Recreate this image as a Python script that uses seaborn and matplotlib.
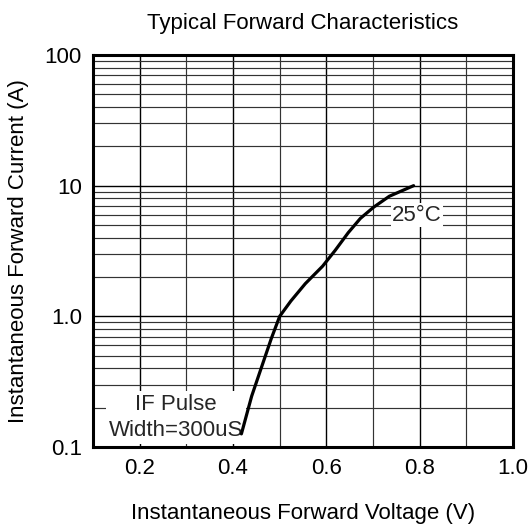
import seaborn as sns
import pandas as pd
import matplotlib.pyplot as plt
from matplotlib.ticker import FixedLocator, NullFormatter

# curve (25 deg C)
voltage = [0.418, 0.44, 0.461, 0.482, 0.50, 0.524, 0.555, 0.592, 0.619,
           0.647, 0.673, 0.701, 0.735, 0.787]
current = [0.126, 0.245, 0.407, 0.675, 1.0, 1.31, 1.78, 2.42, 3.2,
           4.37, 5.62, 6.83, 8.3, 10.0]

x_ticks = [0.2, 0.4, 0.6, 0.8, 1.0]
x_tick_labels = ["0.2", "0.4", "0.6", "0.8", "1.0"]
x_minor = [0.3, 0.5, 0.7, 0.9]
y_ticks = [0.1, 1, 10, 100]
y_tick_labels = ["0.1", "1.0", "10", "100"]
y_minor = [m * d for d in (0.1, 1, 10) for m in range(2, 10)]

df = pd.DataFrame({"voltage": voltage, "current": current})

sns.set_theme(style="white")
plt.rcParams["font.family"] = ["Liberation Sans", "DejaVu Sans"]

fig = plt.figure(figsize=(5.32, 5.26), dpi=100)
ax = fig.add_axes([0.1748, 0.1502, 0.7895, 0.7452])

sns.lineplot(data=df, x="voltage", y="current", color="black", linewidth=2.3,
             ax=ax, zorder=3)

ax.set_yscale("log")
ax.set_xlim(0.1, 1.0)
ax.set_ylim(0.1, 100)

ax.set_xticks(x_ticks)
ax.set_xticklabels(x_tick_labels)
ax.xaxis.set_minor_locator(FixedLocator(x_minor))
ax.set_yticks(y_ticks)
ax.set_yticklabels(y_tick_labels)
ax.yaxis.set_minor_locator(FixedLocator(y_minor))
ax.yaxis.set_minor_formatter(NullFormatter())

ax.grid(which="major", color="black", linewidth=1.0)
ax.grid(which="minor", color="#333333", linewidth=0.85)
ax.set_axisbelow(True)
ax.tick_params(which="both", length=0, labelsize=16, colors="black")
ax.tick_params(axis="x", pad=8)
ax.tick_params(axis="y", pad=8)

for s in ax.spines.values():
    s.set_visible(True)
    s.set_color("black")
    s.set_linewidth(2.2)

ax.set_title("Typical Forward Characteristics", fontsize=16, pad=19, color="black")
ax.set_xlabel("Instantaneous Forward Voltage (V)", fontsize=16, labelpad=17, color="black")
ax.set_ylabel("Instantaneous Forward Current (A)", fontsize=16, labelpad=11, color="black")

ax.text(0.794, 5.94, "25°C", fontsize=16, ha="center", va="center", zorder=2,
        bbox=dict(facecolor="white", edgecolor="none", pad=1))
ax.text(0.278, 0.168, "IF Pulse\nWidth=300uS", fontsize=16, ha="center", va="center",
        linespacing=1.3, zorder=2,
        bbox=dict(facecolor="white", edgecolor="none", pad=2))

fig.savefig("out.png", dpi=100)
